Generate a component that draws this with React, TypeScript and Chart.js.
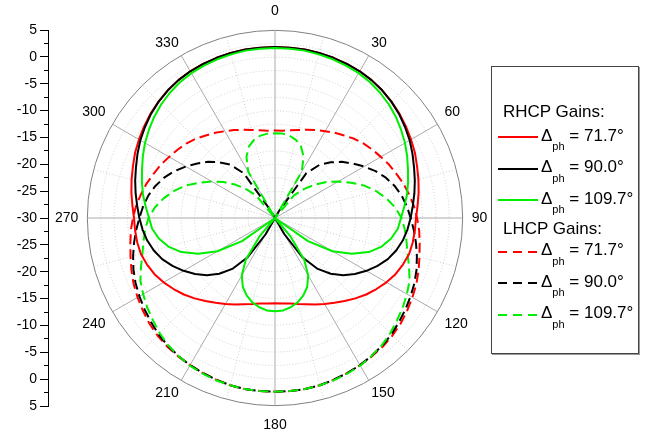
import React, { useEffect, useRef } from 'react';
import { Chart, registerables } from 'chart.js';

Chart.register(...registerables);

const FONT = '"Liberation Sans", Arial, Helvetica, sans-serif';
Chart.defaults.font.family = FONT;

// Angle categories (degrees, clockwise from top)
const ANGLES = [
  0, 5, 10, 15, 20, 25, 30, 35, 40, 45, 50, 55, 60, 65, 70, 75, 80, 85,
  90, 95, 100, 105, 110, 115, 120, 125, 130, 135, 140, 145, 150, 155, 160, 165, 170, 175,
  180, 185, 190, 195, 200, 205, 210, 215, 220, 225, 230, 235, 240, 245, 250, 255, 260, 265,
  270, 275, 280, 285, 290, 295, 300, 305, 310, 315, 320, 325, 330, 335, 340, 345, 350, 355,
];

// RHCP gains (dB)
const RHCP_717 = [
  1.9, 1.9, 1.9, 1.85, 1.8, 1.7, 1.6, 1.4, 1.1, 0.7, 0.3, -0.2, -0.7, -1.2, -1.8, -2.3, -2.8, -3.3,
  -3.7, -3.8, -3.9, -4.1, -4.6, -5.2, -6.0, -6.9, -7.8, -8.8, -9.8, -10.7, -11.5, -12.2, -12.9, -13.4, -13.8, -14.0,
  -14.1, -14.0, -13.8, -13.4, -12.9, -12.2, -11.5, -10.7, -9.8, -8.8, -7.8, -6.9, -6.0, -5.2, -4.6, -4.1, -3.9, -3.8,
  -3.7, -3.3, -2.8, -2.3, -1.8, -1.2, -0.7, -0.2, 0.3, 0.7, 1.1, 1.4, 1.6, 1.7, 1.8, 1.85, 1.9, 1.9,
];
const RHCP_900 = [
  1.9, 1.9, 1.9, 1.85, 1.8, 1.7, 1.6, 1.4, 1.1, 0.7, 0.2, -0.4, -1.0, -1.7, -2.4, -3.0, -3.6, -4.2,
  -4.7, -5.2, -5.8, -6.6, -7.6, -8.9, -10.3, -11.8, -13.4, -15.3, -17.6, -21.0, -26.5, -30, -30, -30, -30, -30,
  -30, -30, -30, -30, -30, -30, -26.5, -21.0, -17.6, -15.3, -13.4, -11.8, -10.3, -8.9, -7.6, -6.6, -5.8, -5.2,
  -4.7, -4.2, -3.6, -3.0, -2.4, -1.7, -1.0, -0.4, 0.2, 0.7, 1.1, 1.4, 1.6, 1.7, 1.8, 1.85, 1.9, 1.9,
];
const RHCP_1097 = [
  1.7, 1.7, 1.7, 1.6, 1.5, 1.35, 1.2, 0.9, 0.5, 0.0, -0.6, -1.3, -2.0, -2.8, -3.6, -4.3, -5.0, -5.8,
  -6.5, -7.0, -8.0, -9.4, -11.4, -14.2, -17.6, -22.5, -30, -30, -25.5, -20.5, -17.6, -15.8, -14.6, -13.7, -13.1, -12.7,
  -12.6, -12.7, -13.1, -13.7, -14.6, -15.8, -17.6, -20.5, -25.5, -30, -30, -22.5, -17.6, -14.2, -11.4, -9.4, -8.0, -7.0,
  -6.5, -5.8, -5.0, -4.3, -3.6, -2.8, -2.0, -1.3, -0.6, 0.0, 0.5, 0.9, 1.2, 1.35, 1.5, 1.6, 1.7, 1.7,
];

// LHCP gains (dB)
const LHCP_717 = [
  -13.7, -13.65, -13.4, -13.0, -12.5, -11.9, -11.3, -10.6, -9.9, -9.1, -8.4, -7.8, -7.2, -6.5, -5.9, -5.2, -4.6, -4.0,
  -3.5, -3.0, -2.6, -2.1, -1.5, -0.9, -0.4, 0.1, 0.6, 1.0, 1.3, 1.5, 1.7, 1.9, 2.1, 2.3, 2.4, 2.4,
  2.4, 2.4, 2.4, 2.3, 2.1, 1.9, 1.7, 1.5, 1.3, 1.0, 0.6, 0.1, -0.4, -0.9, -1.5, -2.1, -2.6, -3.0,
  -3.5, -4.0, -4.6, -5.2, -5.9, -6.5, -7.2, -7.8, -8.4, -9.1, -9.9, -10.6, -11.3, -11.9, -12.5, -13.0, -13.4, -13.65,
];
const LHCP_900 = [
  -30, -30, -30, -30, -30, -30, -28.5, -19.8, -17.0, -15.3, -13.7, -12.3, -10.8, -9.3, -8.0, -6.9, -6.0, -5.3,
  -4.7, -4.0, -3.3, -2.6, -1.9, -1.3, -0.8, -0.3, 0.2, 0.7, 1.1, 1.4, 1.7, 1.9, 2.1, 2.3, 2.4, 2.4,
  2.4, 2.4, 2.4, 2.3, 2.1, 1.9, 1.7, 1.4, 1.1, 0.7, 0.2, -0.3, -0.8, -1.3, -1.9, -2.6, -3.3, -4.0,
  -4.7, -5.3, -6.0, -6.9, -8.0, -9.3, -10.8, -12.3, -13.7, -15.3, -17.0, -19.8, -28.5, -30, -30, -30, -30, -30,
];
const LHCP_1097 = [
  -14.2, -14.2, -14.4, -14.9, -15.8, -17.4, -20.0, -30, -24.5, -22.4, -20.3, -18.3, -16.4, -14.4, -12.3, -10.5, -8.9, -7.5,
  -6.4, -5.7, -5.1, -4.4, -3.4, -2.3, -1.6, -0.9, -0.3, 0.4, 1.0, 1.4, 1.8, 2.0, 2.2, 2.3, 2.4, 2.4,
  2.4, 2.4, 2.4, 2.3, 2.2, 2.0, 1.8, 1.4, 1.0, 0.4, -0.3, -0.9, -1.6, -2.3, -3.4, -4.4, -5.1, -5.7,
  -6.4, -7.5, -8.9, -10.5, -12.3, -14.4, -16.4, -18.3, -20.3, -22.4, -24.5, -30, -20.0, -17.4, -15.8, -14.9, -14.4, -14.2,
];

// Radial axis
const R_MIN = -30;
const R_MAX = 5;
const R_STEP = 2.5;
const LEFT_AXIS_STEP = 5;

const RED = '#ff0000';
const BLACK = '#000000';
const GREEN = '#00ee00';

const PHASES = ['71.7', '90.0', '109.7'];
const COLORS = [RED, BLACK, GREEN];
const RHCP = [RHCP_717, RHCP_900, RHCP_1097];
const LHCP = [LHCP_717, LHCP_900, LHCP_1097];

const DASH = [10, 5];

function LegendRow({ top, color, dashed, phase }: { top: number; color: string; dashed: boolean; phase: string }) {
  const sample: React.CSSProperties = {
    position: 'absolute',
    left: 498,
    top: top - 1,
    width: 40,
    height: 2,
    background: dashed
      ? `repeating-linear-gradient(90deg, ${color} 0px, ${color} 9px, transparent 9px, transparent 15px)`
      : color,
  };
  const text: React.CSSProperties = {
    position: 'absolute',
    left: 541,
    top: top + 4.5 - 15.9,
    fontSize: 17,
    lineHeight: '20px',
    height: 20,
    whiteSpace: 'nowrap',
    color: '#000',
  };
  return (
    <>
      <div style={sample} />
      <div style={text}>
        Δ<span style={{ fontSize: 11, position: 'relative', top: 9.5 }}>ph</span> = {phase}°
      </div>
    </>
  );
}

export default function App() {
  const radarRef = useRef<HTMLCanvasElement>(null);
  const axisRef = useRef<HTMLCanvasElement>(null);

  useEffect(() => {
    document.body.style.margin = '0';
    const datasets: any[] = [];
    // Draw order: first dataset ends up on top
    [2, 1, 0].forEach((k) => {
      datasets.push({
        label: `RHCP ${PHASES[k]}`,
        data: RHCP[k],
        borderColor: COLORS[k],
        backgroundColor: 'transparent',
        borderWidth: 2,
        fill: false,
        pointRadius: 0,
        pointHoverRadius: 0,
        tension: 0,
        borderJoinStyle: 'round',
      });
    });
    [2, 1, 0].forEach((k) => {
      datasets.push({
        label: `LHCP ${PHASES[k]}`,
        data: LHCP[k],
        borderColor: COLORS[k],
        backgroundColor: 'transparent',
        borderWidth: 2,
        borderDash: DASH,
        fill: false,
        pointRadius: 0,
        pointHoverRadius: 0,
        tension: 0,
        borderJoinStyle: 'round',
      });
    });

    const radar = new Chart(radarRef.current as HTMLCanvasElement, {
      type: 'radar',
      data: { labels: ANGLES.map(String), datasets },
      options: {
        responsive: false,
        maintainAspectRatio: false,
        animation: false,
        events: [],
        layout: { padding: 0 },
        plugins: { legend: { display: false }, tooltip: { enabled: false } },
        scales: {
          r: {
            min: R_MIN,
            max: R_MAX,
            startAngle: 0,
            ticks: { display: false, stepSize: R_STEP, maxTicksLimit: 100 },
            grid: {
              circular: true,
              color: (c: any) => (c.tick && c.tick.value === R_MAX ? '#808080' : '#cfcfcf'),
              lineWidth: 1,
            },
            border: {
              dash: (c: any) => (c.tick && c.tick.value === R_MAX ? [] : [1, 2]),
            } as any,
            angleLines: {
              display: true,
              color: (c: any) => (c.index % 6 === 0 ? '#ababab' : '#d0d0d0'),
              lineWidth: (c: any) => (c.index % 3 === 0 ? 1 : 0),
              borderDash: (c: any) => (c.index % 6 === 0 ? [] : [1, 2]),
            } as any,
            pointLabels: {
              display: true,
              color: '#000',
              callback: (label: string, index: number) => (index % 6 === 0 ? label : ''),
              font: (c: any) => ({ family: FONT, size: c.index % 6 === 0 ? 14 : 1 }),
              padding: (c: any) => {
                const a = ANGLES[c.index];
                if (a % 180 === 0) return 11;
                if (a % 90 === 0) return 9;
                if (a % 60 === 0) return 8;
                if (a % 30 === 0) return 5;
                return 0;
              },
            } as any,
          },
        },
      },
    });

    const axis = new Chart(axisRef.current as HTMLCanvasElement, {
      type: 'line',
      data: { datasets: [] },
      options: {
        responsive: false,
        maintainAspectRatio: false,
        animation: false,
        events: [],
        layout: { padding: { top: 30, bottom: 32, left: 0, right: 0 } },
        plugins: { legend: { display: false }, tooltip: { enabled: false } },
        scales: {
          yMinor: {
            type: 'linear',
            position: 'left',
            min: -(R_MAX - R_MIN),
            max: R_MAX - R_MIN,
            ticks: { display: false, stepSize: R_STEP, maxTicksLimit: 100 },
            grid: { display: true, drawOnChartArea: false, tickLength: 4, tickColor: '#000', tickWidth: 1 },
            border: { display: false },
            afterFit: (s: any) => {
              s.width = 0;
            },
          },
          y: {
            type: 'linear',
            position: 'left',
            min: -(R_MAX - R_MIN),
            max: R_MAX - R_MIN,
            ticks: {
              stepSize: LEFT_AXIS_STEP,
              autoSkip: false,
              maxTicksLimit: 100,
              padding: 3,
              color: '#000',
              font: { family: FONT, size: 14 },
              callback: (v: any) => String(Math.abs(Number(v)) + R_MIN),
            },
            grid: { display: true, drawOnChartArea: false, tickLength: 8, tickColor: '#000', tickWidth: 1 },
            border: { display: true, color: '#000', width: 1 },
            afterFit: (s: any) => {
              s.width = 48;
            },
          },
          x: { type: 'linear', display: false, min: 0, max: 1 },
        },
      } as any,
    });

    return () => {
      radar.destroy();
      axis.destroy();
    };
  }, []);

  const heading: React.CSSProperties = {
    position: 'absolute',
    left: 503,
    fontSize: 17,
    lineHeight: '20px',
    height: 20,
    whiteSpace: 'nowrap',
    color: '#000',
  };

  return (
    <div
      style={{
        position: 'fixed',
        left: 0,
        top: 0,
        width: 652,
        height: 438,
        overflow: 'hidden',
        background: '#fff',
        fontFamily: FONT,
      }}
    >
      <canvas
        ref={axisRef}
        width={60}
        height={438}
        style={{ position: 'absolute', left: 0, top: 0, width: 60, height: 438, display: 'block' }}
      />
      <canvas
        ref={radarRef}
        width={441}
        height={441}
        style={{ position: 'absolute', left: 51, top: -2, width: 441, height: 441, display: 'block' }}
      />
      <div
        style={{
          position: 'absolute',
          left: 491,
          top: 66,
          width: 148,
          height: 288,
          boxSizing: 'border-box',
          border: '1px solid #444',
          boxShadow: '1px 1px 0 #999',
        }}
      />
      <div style={{ ...heading, top: 118.3 - 15.9 }}>RHCP Gains:</div>
      {[0, 1, 2].map((k) => (
        <LegendRow key={`r${k}`} top={[137, 168.5, 200][k]} color={COLORS[k]} dashed={false} phase={PHASES[k]} />
      ))}
      <div style={{ ...heading, top: 235 - 15.9 }}>LHCP Gains:</div>
      {[0, 1, 2].map((k) => (
        <LegendRow key={`l${k}`} top={[251.5, 283, 314.5][k]} color={COLORS[k]} dashed={true} phase={PHASES[k]} />
      ))}
    </div>
  );
}
